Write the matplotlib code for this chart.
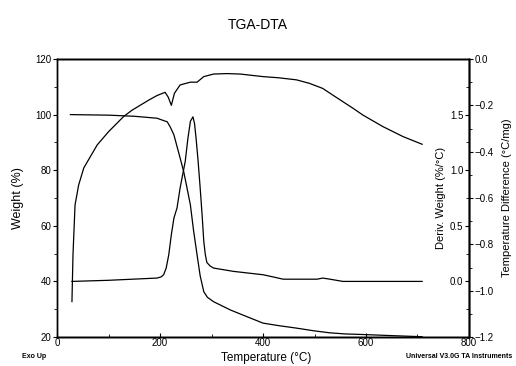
"""TGA-DTA joonis: kaal, kaalu tuletis ja temperatuuride vahe."""

import matplotlib
matplotlib.use("Agg")
import matplotlib.pyplot as plt
from matplotlib.ticker import MultipleLocator

# Kaal (%) vasakul teljel
kaal_T = [26, 100, 150, 194, 214, 220, 227, 236, 246, 252, 259, 265, 272, 278, 285, 292, 304, 337,
          369, 400, 430, 465, 500, 530, 560, 594, 650, 709]
kaal = [100, 99.8, 99.4, 98.7, 97.4, 95.5, 92.7, 86.5, 79.5, 74.0, 67.5, 58.5, 49.5, 42.0, 36.3,
        34.3, 32.7, 29.7, 27.3, 25.0, 24.1, 23.2, 22.2, 21.5, 21.1, 20.9, 20.5, 20.1]

# Kaalu tuletis (%/°C)
deriv_T = [29, 100, 194, 202, 207, 212, 217, 222, 227, 233, 239, 244, 249, 254, 259, 264, 267, 270,
           274, 278, 282, 285, 288, 291, 297, 304, 343, 400, 420, 439, 480, 505, 516, 530, 555, 620, 709]
deriv = [0.0, 0.01, 0.03, 0.04, 0.06, 0.12, 0.24, 0.42, 0.57, 0.66, 0.84, 0.96, 1.08, 1.28, 1.44,
         1.48, 1.42, 1.29, 1.08, 0.84, 0.58, 0.36, 0.24, 0.17, 0.14, 0.12, 0.09, 0.06, 0.04, 0.02,
         0.02, 0.02, 0.03, 0.02, 0.0, 0.0, 0.0]

# Temperatuuride vahe (°C/mg)
dta_T = [29, 31, 35, 42, 52, 78, 100, 129, 145, 162, 180, 194, 205, 210, 216, 222, 228, 239, 259,
         272, 285, 304, 330, 356, 400, 430, 465, 490, 516, 535, 555, 575, 594, 633, 672, 709]
dta = [-1.047, -0.846, -0.63, -0.544, -0.47, -0.371, -0.314, -0.249, -0.222, -0.199, -0.175, -0.158,
       -0.148, -0.144, -0.165, -0.2, -0.148, -0.112, -0.1, -0.1, -0.076, -0.065, -0.063, -0.065,
       -0.076, -0.081, -0.09, -0.105, -0.127, -0.155, -0.184, -0.213, -0.242, -0.292, -0.335, -0.368]

plt.rcParams.update({
    "font.family": ["Liberation Sans", "DejaVu Sans"],
    "font.size": 7,
    "axes.linewidth": 1.0,
    "xtick.major.size": 3,
    "ytick.major.size": 3,
    "xtick.minor.size": 2,
    "ytick.minor.size": 2,
})

fig = plt.figure(figsize=(5.16, 3.66), dpi=100)
ax = fig.add_axes([0.1105, 0.0792, 0.7984, 0.7596])

ax.plot(kaal_T, kaal, color="black", lw=0.9)
ax.set_xlim(0, 800)
ax.set_ylim(20, 120)
ax.xaxis.set_major_locator(MultipleLocator(200))
ax.xaxis.set_minor_locator(MultipleLocator(100))
ax.yaxis.set_major_locator(MultipleLocator(20))
ax.yaxis.set_minor_locator(MultipleLocator(10))
ax.tick_params(axis="x", which="both", direction="in", pad=1)
ax.tick_params(axis="y", pad=1)
ax.set_ylabel("Weight (%)", fontsize=9, labelpad=8)

# Tuletise telg: paremal serval, märgid ja sildid sissepoole
ax2 = ax.twinx()
ax2.plot(deriv_T, deriv, color="black", lw=0.9)
ax2.set_ylim(-0.5, 2.0)
ax2.spines["left"].set_position(("axes", 1.0))
ax2.yaxis.set_ticks_position("left")
ax2.yaxis.set_label_position("left")
ax2.set_yticks([0.0, 0.5, 1.0, 1.5])
ax2.yaxis.set_minor_locator(MultipleLocator(0.25))
ax2.tick_params(axis="y", pad=1)
ax2.set_ylabel("Deriv. Weight (%/°C)", fontsize=8, labelpad=3)

# DTA telg paremal
ax3 = ax.twinx()
ax3.plot(dta_T, dta, color="black", lw=0.9)
ax3.set_ylim(-1.2, 0.0)
ax3.yaxis.set_major_locator(MultipleLocator(0.2))
ax3.yaxis.set_minor_locator(MultipleLocator(0.1))
ax3.tick_params(axis="y", pad=1)
ax3.set_ylabel("Temperature Difference (°C/mg)", fontsize=8, labelpad=6)

fig.text(0.5, 0.932, "TGA-DTA", ha="center", va="center", fontsize=10)
fig.text(0.515, 0.022, "Temperature (°C)", ha="center", va="center", fontsize=8.5)
fig.text(0.042, 0.025, "Exo Up", ha="left", va="center", fontsize=5, fontweight="bold")
fig.text(0.992, 0.025, "Universal V3.0G TA Instruments", ha="right", va="center",
         fontsize=5, fontweight="bold")

fig.savefig("out.png", dpi=100)
